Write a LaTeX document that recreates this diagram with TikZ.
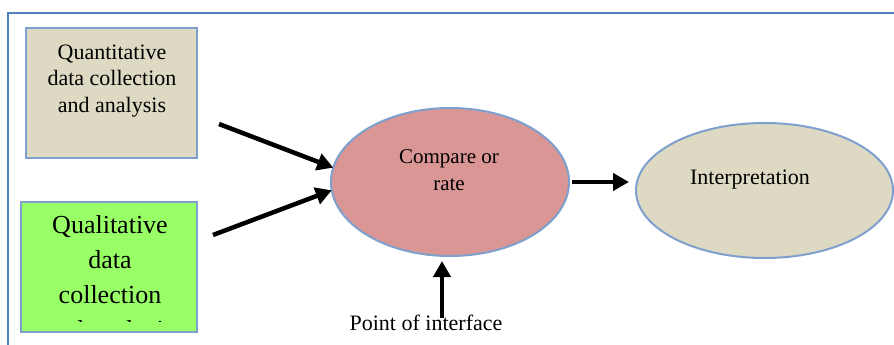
\documentclass[tikz,border=0pt]{standalone}
\usepackage{fontspec}
\setmainfont{Liberation Serif}
\usetikzlibrary{shapes.geometric,arrows.meta}
\definecolor{frameblue}{RGB}{79,129,189}
\definecolor{edgeblue}{RGB}{126,160,205}
\definecolor{tanfill}{RGB}{221,217,195}
\definecolor{limefill}{RGB}{153,255,102}
\definecolor{rosefill}{RGB}{217,150,148}

\begin{document}
\begin{tikzpicture}[x=1pt,y=-1pt,
  box/.style={draw=edgeblue, line width=2.5pt, inner sep=0pt, outer sep=0pt},
  oval/.style={ellipse, draw=edgeblue, line width=2pt, inner sep=0pt, outer sep=0pt},
  txt/.style={inner sep=0pt, align=center, anchor=base},
  flow/.style={line width=4.5pt, -{Triangle[length=16pt,width=17pt]}}]
\useasboundingbox (0,0) rectangle (894,345);

% outer frame (top and left edges)
\draw[frameblue, line width=2pt] (8,345) -- (8,13) -- (894,13);

% input boxes
\node[box, fill=tanfill, minimum width=171pt, minimum height=130pt] (quant) at (111.5,93) {};
\node[box, fill=limefill, minimum width=176pt, minimum height=130pt] (qual) at (109,267) {};

% multi-line texts are placed by the baseline of their last line
\node[txt, font=\fontsize{22}{26.5}\selectfont] (quanttext) at (112,112)
  {Quantitative\\data collection\\and analysis};
\begin{scope}
  \clip (21,202) rectangle (197,321);
  \node[txt, font=\fontsize{26}{35}\selectfont] (qualtext) at (110,338)
    {Qualitative\\data\\collection\\and analysis};
\end{scope}

% comparison and interpretation ovals
\node[oval, fill=rosefill, minimum width=238pt, minimum height=148pt] (cmp) at (450,182) {};
\node[oval, fill=tanfill, minimum width=257pt, minimum height=135pt] (interp) at (764.5,190.5) {};

\node[txt, font=\fontsize{21}{27}\selectfont] (cmptext) at (449,190) {Compare or\\rate};
\node[txt, font=\fontsize{22}{26}\selectfont] (interptext) at (750,184) {Interpretation};
\node[txt, font=\fontsize{22}{25}\selectfont] (poi) at (426,330) {Point of interface};

% connectors
\coordinate (qa) at (219,124);
\coordinate (qb) at (213,235);
\coordinate (pa) at (442,318);
\draw[flow] (qa) -- (cmp.173);
\draw[flow] (qb) -- (cmp.184);
\draw[flow, shorten <=3pt, shorten >=7pt] (cmp.east) -- (cmp.east -| interp.west);
\draw[flow, shorten >=5pt] (pa) -- (pa |- cmp.south);
\end{tikzpicture}
\end{document}
